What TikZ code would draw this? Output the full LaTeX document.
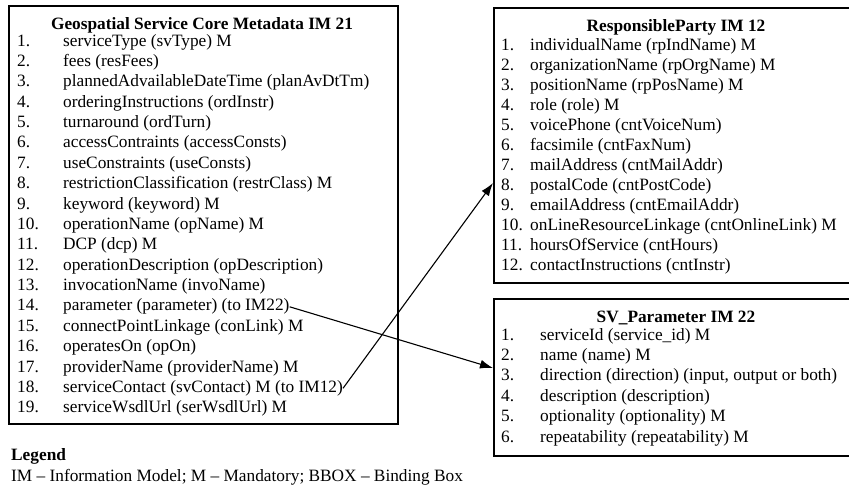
\documentclass[tikz,border=0pt]{standalone}
\usepackage{fontspec}
\setmainfont{Liberation Serif}
\usetikzlibrary{arrows.meta,calc}

\begin{document}
\begin{tikzpicture}[x=1pt,y=-1pt,
  every node/.style={font=\fontsize{17.3pt}{20pt}\selectfont},
  box/.style={draw, line width=1.7pt, inner sep=0pt, anchor=north west},
  title/.style={font=\fontsize{17.3pt}{20pt}\selectfont\bfseries, inner sep=0pt, anchor=base},
  row/.style={inner sep=0pt, anchor=base west},
  link/.style={line width=1.1pt, -{Latex[length=13pt,width=9pt]}}]
\useasboundingbox (0,0) rectangle (849,485);
\clip (0,0) rectangle (849,485);

% item rows: number column of width #1, then the entry
\newcommand{\itemrow}[3]{\makebox[#1][l]{#2}#3}

% ---- Geospatial Service Core Metadata IM 21 ----
\node[box, minimum width=389pt, minimum height=418pt] (b1) at (8,5) {};
\node[title] (t1) at (202,29.5) {Geospatial Service Core Metadata IM 21};
\foreach \txt [count=\k] in {
  serviceType (svType) M,
  fees (resFees),
  plannedAdvailableDateTime (planAvDtTm),
  orderingInstructions (ordInstr),
  turnaround (ordTurn),
  accessContraints (accessConsts),
  useConstraints (useConsts),
  restrictionClassification (restrClass) M,
  keyword (keyword) M,
  operationName (opName) M,
  DCP (dcp) M,
  operationDescription (opDescription),
  invocationName (invoName),
  parameter (parameter) (to IM22),
  connectPointLinkage (conLink) M,
  operatesOn (opOn),
  providerName (providerName) M,
  serviceContact (svContact) M (to IM12),
  serviceWsdlUrl (serWsdlUrl) M}
  \node[row] (g\k) at (17,46+20.38*\k-20.38) {\itemrow{46pt}{\k.}{\txt}};

% ---- ResponsibleParty IM 12 ----
\node[box, minimum width=366pt, minimum height=275pt] (b2) at (493,7) {};
\node[title] (t2) at (676,31) {ResponsibleParty IM 12};
\foreach \txt [count=\k] in {
  individualName (rpIndName) M,
  organizationName (rpOrgName) M,
  positionName (rpPosName) M,
  role (role) M,
  voicePhone (cntVoiceNum),
  facsimile (cntFaxNum),
  mailAddress (cntMailAddr),
  postalCode (cntPostCode),
  emailAddress (cntEmailAddr),
  onLineResourceLinkage (cntOnlineLink) M,
  hoursOfService (cntHours),
  contactInstructions (cntInstr)}
  \node[row] (r\k) at (501,50+20*\k-20) {\itemrow{29pt}{\k.}{\txt}};

% ---- SV_Parameter IM 22 ----
\node[box, minimum width=366pt, minimum height=157pt] (b3) at (493,298) {};
\node[title] (t3) at (676,322) {SV\_Parameter IM 22};
\foreach \txt [count=\k] in {
  serviceId (service\_id) M,
  name (name) M,
  {direction (direction) (input, output or both)},
  description (description),
  optionality (optionality) M,
  repeatability (repeatability) M}
  \node[row] (p\k) at (501,340+20.4*\k-20.4) {\itemrow{39pt}{\k.}{\txt}};

% ---- links between the models ----
\path (b3.north west) ++(0,70) coordinate (in3);
\path (b2.north west) ++(0,176) coordinate (in2);
\draw[link] (g14.east) -- (in3);
\draw[link] (g18.east) -- (in2);

% ---- legend ----
\node[row, font=\fontsize{17.3pt}{20pt}\selectfont\bfseries] (lg) at (11,460) {Legend};
\node[row] (lgtext) at (11,481) {IM – Information Model; M – Mandatory; BBOX – Binding Box};
\end{tikzpicture}
\end{document}
